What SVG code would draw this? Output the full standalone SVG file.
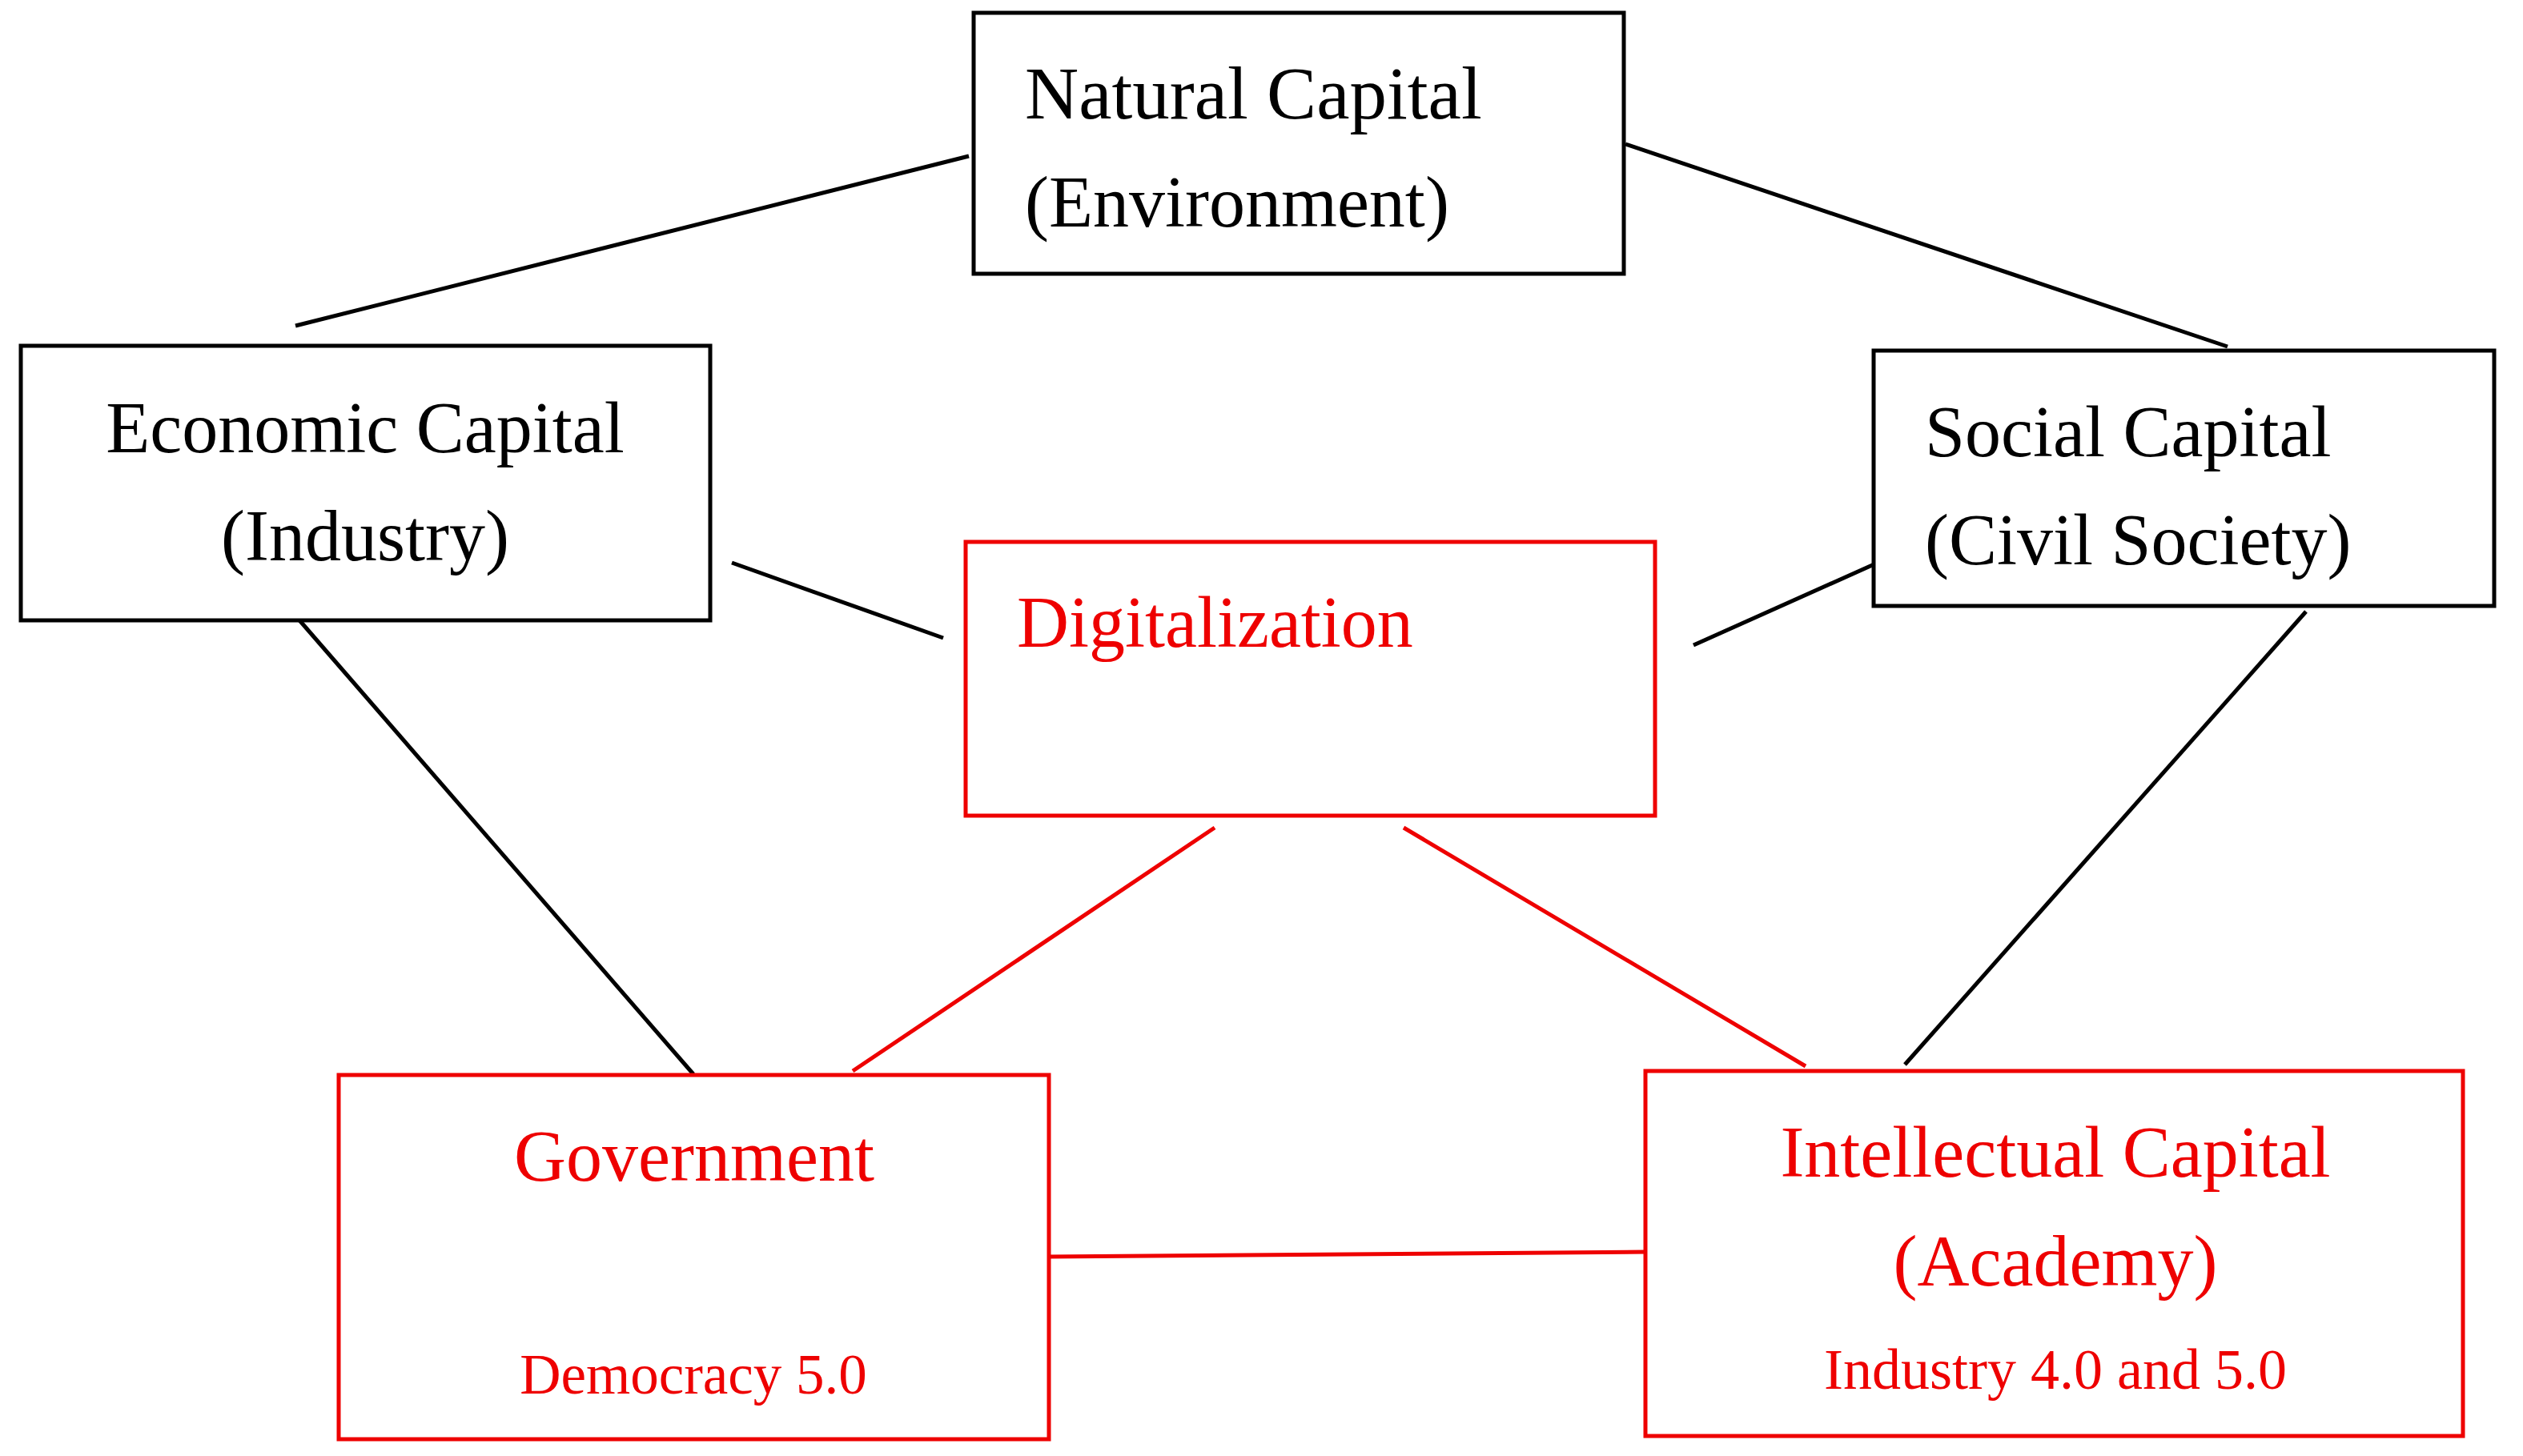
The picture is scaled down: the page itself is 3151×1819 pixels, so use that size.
<svg xmlns="http://www.w3.org/2000/svg" width="3151" height="1819" viewBox="0 0 3151 1819">
<style>
  .bk { fill: #ffffff; stroke: #000000; stroke-width: 5; }
  .rd { fill: #ffffff; stroke: #ee0000; stroke-width: 5; }
  .lk { stroke: #000000; stroke-width: 5; fill: none; }
  .lr { stroke: #ee0000; stroke-width: 5; fill: none; }
  .t { font-family: "Liberation Serif", "Times New Roman", serif; font-size: 90px; fill: #000000; }
  .tr { font-family: "Liberation Serif", "Times New Roman", serif; font-size: 90px; fill: #ee0000; }
  .ts { font-family: "Liberation Serif", "Times New Roman", serif; font-size: 72px; fill: #ee0000; }
</style>
<rect width="3151" height="1819" fill="#ffffff"/>
<g id="connectors">
  <line class="lk" x1="1210" y1="195" x2="369" y2="407"/>
  <line class="lk" x1="2030" y1="180" x2="2782" y2="433"/>
  <line class="lk" x1="914" y1="703" x2="1178" y2="797"/>
  <line class="lk" x1="2345" y1="703" x2="2115" y2="806"/>
  <line class="lk" x1="368" y1="768" x2="866" y2="1342"/>
  <line class="lk" x1="2880" y1="764" x2="2379" y2="1330"/>
  <line class="lr" x1="1517" y1="1034" x2="1065" y2="1338"/>
  <line class="lr" x1="1753" y1="1034" x2="2255" y2="1332"/>
  <line class="lr" x1="1308" y1="1570" x2="2056" y2="1564"/>
</g>
<g id="natural">
  <rect class="bk" x="1216" y="16" width="812" height="326"/>
  <text class="t" x="1280" y="148" style="font-size:93px">Natural Capital</text>
  <text class="t" x="1280" y="283">(Environment)</text>
</g>
<g id="economic">
  <rect class="bk" x="26" y="432" width="861" height="343"/>
  <text class="t" x="456" y="565" text-anchor="middle">Economic Capital</text>
  <text class="t" x="456" y="700" text-anchor="middle">(Industry)</text>
</g>
<g id="social">
  <rect class="bk" x="2340" y="438" width="775" height="319"/>
  <text class="t" x="2404" y="570">Social Capital</text>
  <text class="t" x="2404" y="705">(Civil Society)</text>
</g>
<g id="digitalization">
  <rect class="rd" x="1206" y="677" width="861" height="342"/>
  <text class="tr" x="1270" y="808">Digitalization</text>
</g>
<g id="government">
  <rect class="rd" x="423" y="1343" width="887" height="455"/>
  <text class="tr" x="867" y="1475" text-anchor="middle">Government</text>
  <text class="ts" x="866" y="1741" text-anchor="middle" style="font-size:71px">Democracy 5.0</text>
</g>
<g id="intellectual">
  <rect class="rd" x="2055" y="1338" width="1021" height="456"/>
  <text class="tr" x="2567" y="1470" text-anchor="middle">Intellectual Capital</text>
  <text class="tr" x="2567" y="1606" text-anchor="middle">(Academy)</text>
  <text class="ts" x="2567" y="1735" text-anchor="middle">Industry 4.0 and 5.0</text>
</g>
</svg>
